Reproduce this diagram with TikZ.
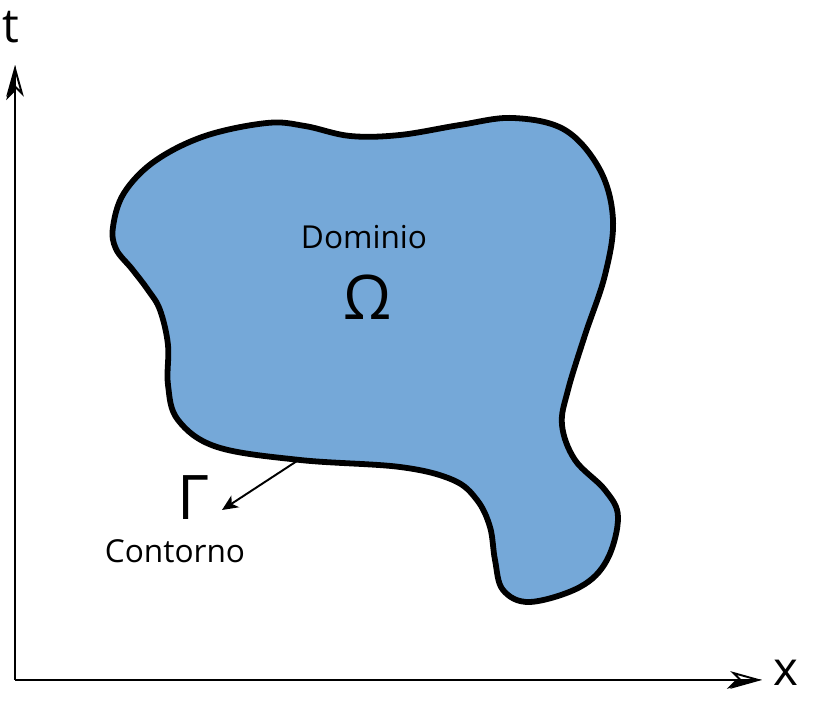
\documentclass[tikz,border=0pt]{standalone}
\usepackage{fontspec}
\setmainfont{Open Sans}
\usepackage{tikz}
\usetikzlibrary{arrows.meta}
\definecolor{domblue}{RGB}{117,168,216}

\begin{document}
\begin{tikzpicture}[
        x=0.02cm, y=0.02cm,
        axis/.style={
            line width=1.1pt
        },
        region/.style={
            draw=black, fill=domblue, line width=3.3pt
        },
        lbl/.style={
            anchor=base, inner sep=0pt, font=\fontsize{18}{21}\selectfont
        },
        sym/.style={
            anchor=base, inner sep=0pt, font=\fontsize{35}{40}\selectfont
        },
        axlbl/.style={
            inner sep=0pt, font=\fontsize{27}{30}\selectfont
        }
    ]
    \useasboundingbox (0,0) rectangle (836,709);

    % Axes
    \coordinate (O) at (15,29);
    \coordinate (ttip) at (15,644);
    \coordinate (xtip) at (762,29);
    \draw[axis, -{Stealth[open, length=18pt, width=10pt, inset=5pt]}] (O) -- (ttip);
    \draw[axis, -{Stealth[harpoon, length=18pt, width=10pt, inset=5pt]}] (O) -- (ttip);
    \draw[axis, -{Stealth[open, length=18pt, width=10pt, inset=5pt]}] (O) -- (xtip);
    \draw[axis, -{Stealth[harpoon, swap, length=18pt, width=10pt, inset=5pt]}] (O) -- (xtip);
    \node[axlbl] (t) at (11,682) {t};
    \node[axlbl] (x) at (786,36) {x};

    % Domain
    \draw[region] plot[smooth cycle, tension=0.6] coordinates {
        (113,482) (124,516) (155,548) (205,573)
        (267,586) (305,583) (350,573) (400,574)
        (460,584) (513,591) (565,579) (600,539) (613,489) (605,434)
        (585,374) (568,319) (562,284) (575,249) (605,219) (618,192)
        (607,149) (580,122) (530,107) (503,119) (495,149) (490,182)
        (477,209) (453,229) (400,242) (300,249) (217,262) (178,289)
        (168,324) (168,364) (160,399) (148,419) (132,440) (116,460)
    };
    \node[lbl] (dom) at (364,460) {Dominio};
    \node[sym] (omega) at (368,389) {Ω};

    % Boundary
    \node[sym] (gamma) at (193,189) {Γ};
    \node[lbl] (cont) at (175,146) {Contorno};
    \coordinate (bnd) at (297,248);
    \coordinate (gtip) at (222,199);
    \draw[axis, -{Stealth[length=9pt, width=8pt, inset=2.5pt]}] (bnd) -- (gtip);

\end{tikzpicture}
\end{document}
